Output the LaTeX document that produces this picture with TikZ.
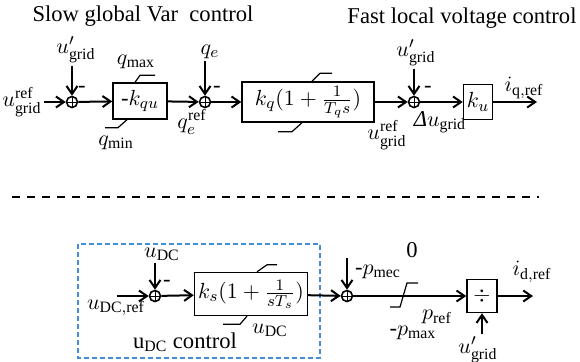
\documentclass[tikz,border=0pt]{standalone}
\usepackage{fontspec}
\setmainfont{Liberation Serif}
\usepackage{tikz}
\usetikzlibrary{arrows.meta}
\definecolor{ctrlblue}{RGB}{70,140,215}

\begin{document}
\begin{tikzpicture}[x=0.5pt, y=-0.5pt,
      every node/.style={font=\fontsize{11.3}{13}\selectfont},
      blockbox/.style={draw, line width=0.7pt, inner sep=1pt},
      sumnode/.style={circle, draw, line width=0.8pt, minimum size=5.5pt, inner sep=0pt,
        path picture={\draw[line width=0.3pt]
          (path picture bounding box.north) -- (path picture bounding box.south)
          (path picture bounding box.west) -- (path picture bounding box.east);}},
      slabel/.style={inner sep=1pt},
      flow/.style={-{Straight Barb[length=4pt,width=5.5pt]}, line width=1pt},
      satline/.style={line width=0.6pt},
    ]
    \useasboundingbox (0,0) rectangle (580,361);
    \node (tslow) at (143,16) {Slow global Var~~control};
    \node (tfast) at (462,18) {Fast local voltage control};
    % slow loop
    \node[slabel] (ugref) at (22,102) {$u_{\mathrm{grid}}^{\mathrm{ref}}$};
    \node[sumnode] (s1) at (72,102) {};
    \node[slabel] (ug1) at (76,50) {$u'_{\mathrm{grid}}$};
    \node[slabel] (m1) at (82,89) {-};
    \node[blockbox, minimum width=27pt, minimum height=18pt] (kqu) at (140,101) {-$k_{qu}$};
    \node[slabel] (qmax) at (136,62) {$q_{\max}$};
    \node[slabel] (qmin) at (116,143) {$q_{\min}$};
    \node[sumnode] (s2) at (205,102) {};
    \node[slabel] (qe) at (210,52) {$q_e$};
    \node[slabel] (m2) at (217,89) {-};
    \node[slabel] (qeref) at (192,122) {$q_e^{\mathrm{ref}}$};
    \node[blockbox, minimum width=66pt, minimum height=20pt] (kq) at (308,102) {$k_q(1+\frac{1}{T_q s})$};
    \draw[satline] (kqu.north) ++(-5,0) -- ++(5,-7) -- ++(15,0);
    \draw[satline] (kqu.south) ++(-13,0) -- ++(-9,8) -- ++(-13,0);
    \draw[satline] (kq.north) ++(4,0) -- ++(8,-8) -- ++(12,0);
    \draw[satline] (kq.south) ++(-6,0) -- ++(-10,9) -- ++(-14,0);
    % fast loop
    \node[sumnode] (s3) at (414,102) {};
    \node[slabel] (ug2) at (416,53) {$u'_{\mathrm{grid}}$};
    \node[slabel] (m3) at (428,89) {-};
    \node[slabel] (ugref2) at (387,135) {$u_{\mathrm{grid}}^{\mathrm{ref}}$};
    \node[slabel] (du) at (440,122) {\textit{Δ}$u_{\mathrm{grid}}$};
    \node[blockbox, minimum width=14.5pt, minimum height=17.5pt] (ku) at (478,102) {$k_u$};
    \coordinate (iqout) at (537,102);
    \node[slabel] (iq) at (524,88) {$i_{\mathrm{q,ref}}$};
    \draw[flow] (ugref) -- (s1);
    \draw[flow] (ug1.south -| s1) -- (s1);
    \draw[flow] (s1) -- (kqu);
    \draw[flow] (kqu) -- (s2);
    \draw[flow] (qe.south -| s2) -- (s2);
    \draw[flow] (s2) -- (kq);
    \draw[flow] (kq) -- (s3);
    \draw[flow] (ug2.south -| s3) -- (s3);
    \draw[flow] (s3) -- (ku);
    \draw[flow] (ku) -- (iqout);
    \draw[line width=1.4pt, dash pattern=on 3.75pt off 3.75pt] (12,197) -- (539,197);
    % dc voltage loop
    \draw[ctrlblue, line width=1pt, dash pattern=on 2.5pt off 1.5pt] (78,244) rectangle (320,358);
    \coordinate (dcin) at (117,296);
    \node[slabel] (udcref) at (116,308) {$u_{\mathrm{DC,ref}}$};
    \node[sumnode] (s4) at (155,296) {};
    \node[slabel] (udc1) at (162,254) {$u_{\mathrm{DC}}$};
    \node[slabel] (m4) at (167,283) {-};
    \node[blockbox, minimum width=56.5pt, minimum height=21.5pt] (ks) at (251,294) {$k_s(1+\frac{1}{sT_s})$};
    \node[slabel] (udc2) at (270,330) {$u_{\mathrm{DC}}$};
    \node[slabel] (tdc) at (185,342) {u$_{\mathrm{DC}}$ control};
    \draw[satline] (ks.north) ++(6,0) -- ++(10,-7) -- ++(10,0);
    \draw[satline] (ks.south) ++(-4,0) -- ++(-7,8) -- ++(-17,0);
    \node[sumnode] (s5) at (347,296) {};
    \coordinate (pmecin) at (347,258);
    \node[slabel] (pmec) at (378,272) {-$p_{\mathrm{mec}}$};
    \node[slabel] (zero) at (412,250) {0};
    \node[slabel] (pmax) at (413,333) {-$p_{\mathrm{max}}$};
    \node[slabel] (pref) at (437,317) {$p_{\mathrm{ref}}$};
    \node[blockbox, minimum width=15pt, minimum height=16.5pt] (div) at (482,296) {$\div$};
    \node[slabel] (ug3) at (478,350) {$u'_{\mathrm{grid}}$};
    \coordinate (idout) at (533,296);
    \node[slabel] (id) at (532,272) {$i_{\mathrm{d,ref}}$};
    \draw[satline] (390,307) -- (400,307) -- (407,283) -- (418,283);
    \draw[flow] (dcin) -- (s4);
    \draw[flow] (udc1.south -| s4) -- (s4);
    \draw[flow] (s4) -- (ks);
    \draw[flow] (ks) -- (s5);
    \draw[flow] (pmecin) -- (s5);
    \draw[flow] (s5) -- (div);
    \draw[flow] (ug3.north -| div) -- (div);
    \draw[flow] (div) -- (idout);
  \end{tikzpicture}
\end{document}
